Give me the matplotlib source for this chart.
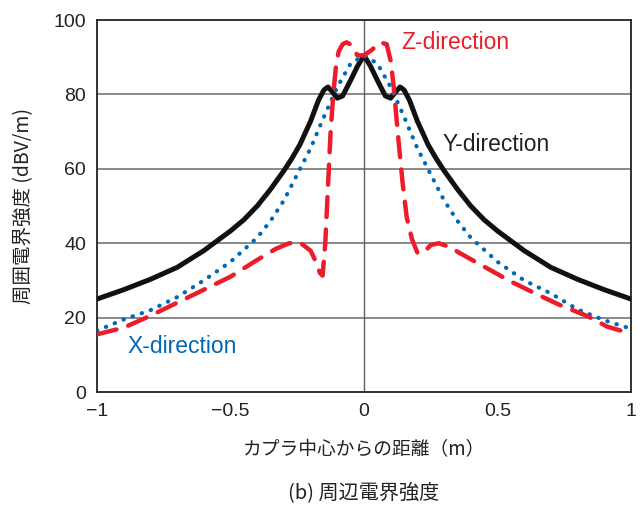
import matplotlib
matplotlib.use("Agg")
import matplotlib.pyplot as plt

plt.rcParams['font.family'] = ['Liberation Sans', 'Noto Sans CJK JP', 'DejaVu Sans']
jp_font = ['Noto Sans CJK JP', 'DejaVu Sans']

# Y-direction (black solid)
y_x = [-1.0, -0.9, -0.8, -0.7, -0.6, -0.5, -0.45, -0.4, -0.35, -0.3, -0.27, -0.24, -0.2, -0.17,
       -0.15, -0.135, -0.12, -0.1, -0.08, -0.05, -0.025, 0.0,
       0.025, 0.05, 0.08, 0.1, 0.12, 0.135, 0.15, 0.17, 0.2, 0.24, 0.27, 0.3, 0.35, 0.4,
       0.45, 0.5, 0.6, 0.7, 0.8, 0.9, 1.0]
y_val = [25, 27.5, 30.3, 33.5, 38, 43.3, 46.3, 50, 54.5, 59.5, 62.8, 66.5, 72.8, 78.5,
         81.2, 82, 80.8, 79, 79.6, 83.8, 87.5, 90.5,
         87.5, 83.8, 79.6, 79, 80.8, 82, 81.2, 78.5, 72.8, 66.5, 62.8, 59.5, 54.5, 50,
         46.3, 43.3, 38, 33.5, 30.3, 27.5, 25]

# X-direction (blue dotted)
x_x = [-1.0, -0.9, -0.8, -0.7, -0.6, -0.5, -0.4, -0.35, -0.3, -0.25, -0.2, -0.15,
       -0.1, -0.05, 0.0, 0.05, 0.1, 0.15, 0.2, 0.25, 0.3, 0.35, 0.4, 0.5, 0.6,
       0.7, 0.8, 0.9, 1.0]
x_val = [16.5, 19.5, 22, 25.5, 30, 35, 41.5, 46, 51.5, 58.5, 65.5, 74,
         82, 88.3, 90.5, 88.3, 82, 74, 65.5, 58.5, 51.5, 46, 41.5, 35, 30,
         26.5, 22.2, 19.3, 17]

# Z-direction (red dashed)
z_x = [-1.0, -0.9, -0.8, -0.7, -0.6, -0.5, -0.4, -0.33, -0.28, -0.24, -0.2, -0.18,
       -0.165, -0.155, -0.145, -0.135, -0.125, -0.115, -0.105, -0.095, -0.08,
       -0.065, -0.045, -0.025, 0.0, 0.03, 0.06, 0.085, 0.1, 0.11, 0.12, 0.13,
       0.145, 0.16, 0.18, 0.2, 0.22, 0.25, 0.28, 0.32, 0.36, 0.46, 0.55, 0.65,
       0.73, 0.84, 0.91, 1.0]
z_val = [15.5, 17.3, 20.5, 24, 27.5, 31, 35.5, 38.5, 40, 40.2, 38, 35,
         32, 31.3, 40, 55, 70, 80, 87.5, 91.5, 93.5,
         94, 93.2, 90.5, 90.5, 92, 94, 93.5, 89, 83, 75, 67,
         56, 47, 41, 37.5, 37.3, 39.5, 40, 39, 37.3, 33.3, 29.7, 26.2,
         23.5, 20.3, 17.6, 15.7]

fig = plt.figure(figsize=(6.44, 5.08), dpi=100)
ax = fig.add_axes([0.1506, 0.2283, 0.8292, 0.7323])

ax.set_xlim(-1, 1)
ax.set_ylim(0, 100)
for yy in [20, 40, 60, 80]:
    ax.axhline(yy, color='#808080', lw=1.3, zorder=1)
ax.axvline(0, color='#606060', lw=1.0, zorder=1)

ax.plot(y_x, y_val, color='#111111', lw=3.6, solid_capstyle='round', zorder=3)
ax.plot(x_x, x_val, color='#0068b7', lw=3.0, linestyle=(0, (0.1, 2.2)),
        dash_capstyle='round', zorder=4)
ax.plot(z_x, z_val, color='#ec1c2b', lw=3.2, linestyle=(0, (4.5, 2.8)),
        dash_capstyle='round', zorder=5)

ax.text(0.14, 94, 'Z-direction', color='#ec1c2b', fontsize=16.5, va='center', ha='left')
ax.text(0.295, 66.5, 'Y-direction', color='#222222', fontsize=16.5, va='center', ha='left')
ax.text(-0.885, 12.3, 'X-direction', color='#0068b7', fontsize=16.5, va='center', ha='left')

ax.set_xticks([-1, -0.5, 0, 0.5, 1])
ax.set_xticklabels(['\u22121', '\u22120.5', '0', '0.5', '1'])
ax.set_yticks([0, 20, 40, 60, 80, 100])
ax.tick_params(length=0, labelsize=14, pad=8, colors='#222222')
for s in ax.spines.values():
    s.set_color('#222222')
    s.set_linewidth(1.3)

ax.set_ylabel('周囲電界強度 (dBV/m)', fontsize=14, color='#222222', labelpad=14,
              family=jp_font)
ax.set_xlabel('カプラ中心からの距離（m）', fontsize=13.5, color='#222222', labelpad=14,
              family=jp_font)
fig.text(0.565, 0.03, '(b) 周辺電界強度', fontsize=14.5, color='#222222', ha='center',
         va='center', family=jp_font)

fig.savefig('out.png', dpi=100)
